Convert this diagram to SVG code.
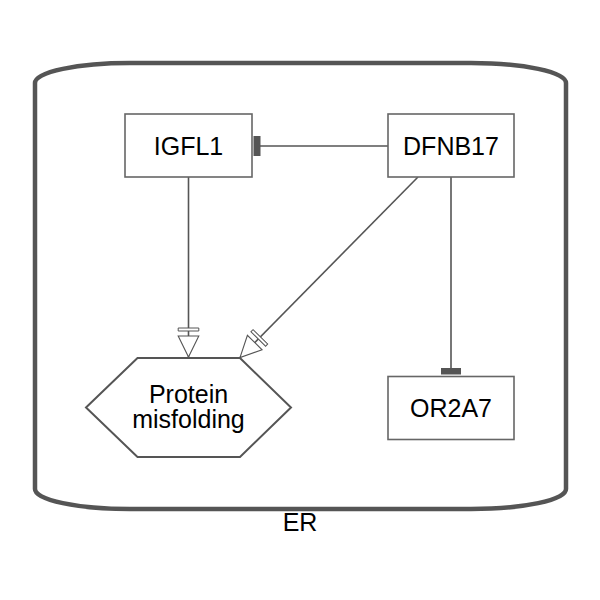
<svg xmlns="http://www.w3.org/2000/svg" width="600" height="600" viewBox="0 0 600 600">
  <style>
    .node { fill: #ffffff; stroke: #666666; stroke-width: 1.6; }
    .label { font-family: "Liberation Sans", Arial, sans-serif; font-size: 25px; fill: #000000; text-anchor: middle; }
    .edge { fill: none; stroke: #555555; stroke-width: 1.6; }
    .bar { fill: #555555; stroke: none; }
  </style>
  <defs>
    <marker id="necstim" markerUnits="userSpaceOnUse" viewBox="0 -12 32 24" markerWidth="32" markerHeight="24" refX="30" refY="0" orient="auto">
      <rect x="1" y="-10.3" width="3" height="20.6" fill="#ffffff" stroke="#555555" stroke-width="1"/>
      <path d="M9,-10.3 L30,0 L9,10.3 Z" fill="#ffffff" stroke="#555555" stroke-width="1.1"/>
    </marker>
  </defs>
  <g id="compartment-ER">
    <path d="M35,83 A95,20 0 0 1 130,63 L471,63 A95,20 0 0 1 566,83 L566,489 A95,20 0 0 1 471,509 L130,509 A95,20 0 0 1 35,489 Z" fill="none" stroke="#555555" stroke-width="4.5"/>
    <text class="label" x="300" y="531">ER</text>
  </g>
  <g id="edges">
    <line class="edge" x1="388" y1="146" x2="258" y2="146"/>
    <rect class="bar" x="253.5" y="136" width="7" height="20"/>
    <line class="edge" x1="188.5" y1="177" x2="188.5" y2="357" marker-end="url(#necstim)"/>
    <line class="edge" x1="418" y1="177" x2="240" y2="357.5" marker-end="url(#necstim)"/>
    <line class="edge" x1="451" y1="177" x2="451" y2="370"/>
    <rect class="bar" x="441" y="368" width="20" height="6.5"/>
  </g>
  <g id="node-IGFL1">
    <rect class="node" x="125" y="114" width="127" height="63"/>
    <text class="label" x="188.5" y="154.5">IGFL1</text>
  </g>
  <g id="node-DFNB17">
    <rect class="node" x="388" y="114" width="126" height="63"/>
    <text class="label" x="451" y="154.5">DFNB17</text>
  </g>
  <g id="node-OR2A7">
    <rect class="node" x="388" y="376.5" width="126" height="63"/>
    <text class="label" x="451" y="416.5">OR2A7</text>
  </g>
  <g id="node-Protein-misfolding">
    <polygon points="86,407.5 137.5,358 240,358 291,407.5 240,457 137.5,457" fill="#ffffff" stroke="#555555" stroke-width="2"/>
    <text class="label" x="188.5" y="402.5">Protein</text>
    <text class="label" x="188.5" y="428">misfolding</text>
  </g>
</svg>
